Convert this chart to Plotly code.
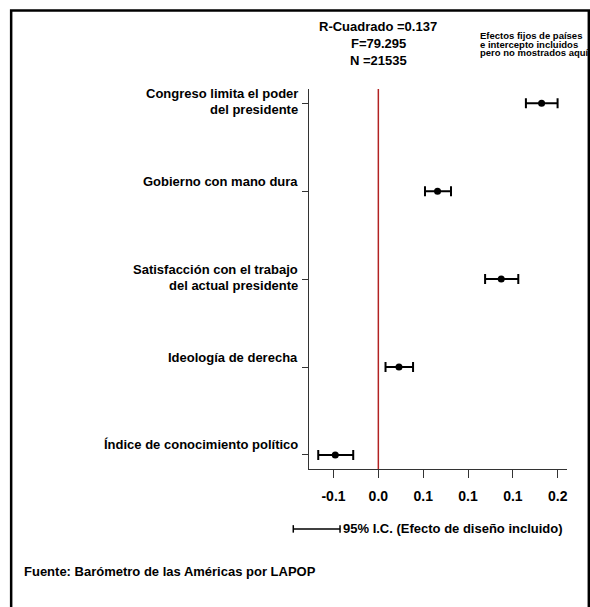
import plotly.graph_objects as go

# ---- data ----
labels = [
    "Índice de conocimiento político",
    "Ideología de derecha",
    "Satisfacción con el trabajo\ndel actual presidente",
    "Gobierno con mano dura",
    "Congreso limita el poder\ndel presidente",
]
coef = [-0.048, 0.023, 0.137, 0.066, 0.182]
ci_low = [-0.067, 0.008, 0.119, 0.052, 0.1645]
ci_high = [-0.028, 0.0387, 0.156, 0.081, 0.1998]
tick_vals = [-0.05, 0.0, 0.05, 0.10, 0.15, 0.20]
tick_text = ["-0.1", "0.0", "0.1", "0.1", "0.1", "0.2"]
stats_lines = ["R-Cuadrado =0.137", "F=79.295", "N =21535"]
note_lines = ["Efectos fijos de países", "e intercepto incluidos", "pero no mostrados aquí"]
legend_text = "95% I.C. (Efecto de diseño incluido)"
source_text = "Fuente: Barómetro de las Américas por LAPOP"

FONT = "Liberation Sans Narrow, Arial Narrow, Liberation Sans, Arial, sans-serif"
W, H = 590, 607
L, R, T, B = 309, 23.3, 89, 137.7
PW, PH = W - L - R, H - T - B


def px(x):
    return (x - L) / PW


def py(y):
    return (H - B - y) / PH


ypos = list(range(len(labels)))

fig = go.Figure()
fig.add_trace(go.Scatter(
    x=coef, y=ypos, mode="markers",
    marker=dict(color="black", size=7),
    error_x=dict(type="data", symmetric=False,
                 array=[h - c for h, c in zip(ci_high, coef)],
                 arrayminus=[c - l for c, l in zip(coef, ci_low)],
                 color="black", thickness=2, width=5),
    showlegend=False, hoverinfo="skip",
))

ann = []
for i, lab in enumerate(labels):
    for j, line in enumerate(lab.split("\n")):
        ann.append(dict(text="<b>%s</b>" % line, xref="paper", x=px(300), xanchor="right",
                        yref="y", y=i, yanchor="middle", yshift=10 - 16 * j,
                        showarrow=False, font=dict(family=FONT, size=13, color="black")))

for j, (line, y) in enumerate(zip(stats_lines, [26.7, 43.3, 60])):
    ann.append(dict(text="<b>%s</b>" % line, xref="x", x=0, xanchor="center",
                    yref="paper", y=py(y), yanchor="middle", showarrow=False,
                    font=dict(family=FONT, size=13, color="black")))
for j, (line, y) in enumerate(zip(note_lines, [35.7, 44.2, 52.7])):
    ann.append(dict(text="<b>%s</b>" % line, xref="paper", x=px(477.5), xanchor="left",
                    yref="paper", y=py(y), yanchor="middle", showarrow=False,
                    font=dict(family=FONT, size=9.5, color="black")))
ann.append(dict(text="<b>%s</b>" % legend_text, xref="paper", x=px(340.5), xanchor="left",
                yref="paper", y=py(529.3), yanchor="middle", showarrow=False,
                font=dict(family=FONT, size=13, color="black")))
ann.append(dict(text="<b>%s</b>" % source_text, xref="paper", x=px(22.5), xanchor="left",
                yref="paper", y=py(572.3), yanchor="middle", showarrow=False,
                font=dict(family=FONT, size=13, color="black")))

shapes = [
    # reference line at zero
    dict(type="line", xref="x", x0=0, x1=0, yref="paper", y0=0, y1=1,
         line=dict(color="#b22222", width=1.5)),
    # legend key: CI bar
    dict(type="line", xref="paper", yref="paper", x0=px(293.3), x1=px(340), y0=py(529.3), y1=py(529.3),
         line=dict(color="black", width=1.5)),
    dict(type="line", xref="paper", yref="paper", x0=px(293.3), x1=px(293.3), y0=py(525.5), y1=py(533),
         line=dict(color="black", width=1.5)),
    dict(type="line", xref="paper", yref="paper", x0=px(340), x1=px(340), y0=py(525.5), y1=py(533),
         line=dict(color="black", width=1.5)),
    # outer frame
    dict(type="rect", xref="paper", yref="paper", x0=px(11.5), x1=px(588.5), y0=py(640), y1=py(10.5),
         line=dict(color="black", width=2.5)),
]

fig.update_layout(
    width=W, height=H, margin=dict(l=L, r=R, t=T, b=B),
    paper_bgcolor="white", plot_bgcolor="white",
    font=dict(family=FONT, size=13, color="black"),
    annotations=ann, shapes=shapes,
    xaxis=dict(range=[-0.0773, 0.2103], tickvals=tick_vals, ticktext=["<b>%s</b>" % t for t in tick_text],
               showgrid=False, zeroline=False, showline=True, linecolor="#333", linewidth=1.3,
               ticks="outside", ticklen=8, tickcolor="#333", tickwidth=1.2,
               ticklabelstandoff=6, tickfont=dict(family=FONT, size=14, color="black")),
    yaxis=dict(range=[-0.16, 4.162], tickvals=ypos, ticktext=[""] * len(ypos),
               showgrid=False, zeroline=False, showline=True, linecolor="#333", linewidth=1.3,
               ticks="outside", ticklen=6, tickcolor="#333", tickwidth=1.2),
)

fig.write_html("out.html", config={"displayModeBar": False},
               post_script="document.body.style.margin='0px';document.body.style.overflow='hidden';")
